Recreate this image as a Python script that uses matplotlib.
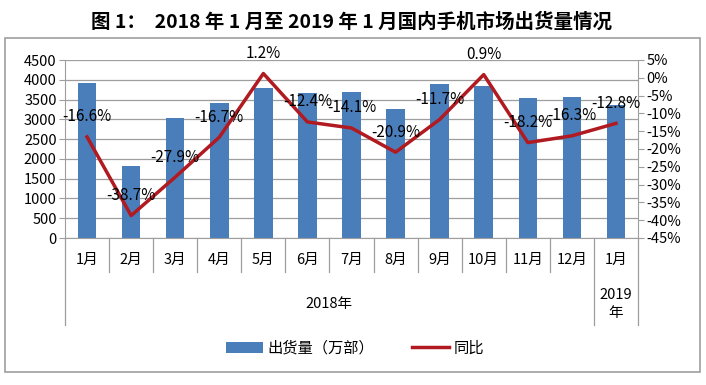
import matplotlib
matplotlib.use("Agg")
import matplotlib.pyplot as plt
from matplotlib.patches import Rectangle
import matplotlib.transforms as mtransforms

plt.rcParams['font.family'] = ['Noto Sans CJK SC', 'DejaVu Sans']

months = ["1月", "2月", "3月", "4月", "5月", "6月", "7月", "8月", "9月",
          "10月", "11月", "12月", "1月"]
shipments = [3910, 1820, 3030, 3420, 3780, 3660, 3690, 3260, 3900, 3850, 3540, 3560, 3370]
yoy = [-16.6, -38.7, -27.9, -16.7, 1.2, -12.4, -14.1, -20.9, -11.7, 0.9, -18.2, -16.3, -12.8]
years = [("2018年", 0, 11), ("2019\n年", 12, 12)]

bar_color = "#4A7EBB"
line_color = "#B01A20"
grid_color = "#9E9E9E"

fig = plt.figure(figsize=(7.06, 3.85), dpi=100)
ax = fig.add_axes([65 / 706, 1 - 238 / 385, (638 - 65) / 706, (238 - 60) / 385])

x = list(range(len(months)))
ax.bar(x, shipments, width=0.42, color=bar_color, label="出货量（万部）", zorder=2)
ax.set_ylim(0, 4500)
ax.set_yticks(range(0, 4501, 500))
ax.set_xlim(-0.5, len(months) - 0.5)
ax.set_xticks([])
ax.yaxis.grid(True, color=grid_color, lw=0.9, zorder=0)
ax.tick_params(axis='y', labelsize=10.5, length=4, color=grid_color, pad=2)
for s in ['top', 'right']:
    ax.spines[s].set_visible(False)
for s in ['left', 'bottom']:
    ax.spines[s].set_color(grid_color)

ax2 = ax.twinx()
ax2.plot(x, yoy, color=line_color, lw=2.5, label="同比", zorder=3)
ax2.set_ylim(-45, 5)
ax2.set_yticks(range(-45, 6, 5))
ax2.set_yticklabels([f"{t}%" for t in range(-45, 6, 5)])
ax2.tick_params(axis='y', labelsize=10.5, length=4, color=grid_color, pad=2)
for s in ['top', 'left', 'bottom']:
    ax2.spines[s].set_visible(False)
ax2.spines['right'].set_color(grid_color)
for i, v in enumerate(yoy):
    ax2.annotate(f"{v}%", (i, v), xytext=(0, 14.4), textcoords='offset points',
                 ha='center', va='center', fontsize=11)

# multi-level category axis
trans = mtransforms.blended_transform_factory(ax.transData, ax.transAxes)
h = 238 - 60
for i in range(len(months) + 1):
    xb = i - 0.5
    year_edge = xb in (-0.5, 11.5, len(months) - 0.5)
    y_end = -(325 - 238) / h if year_edge else -(272 - 238) / h
    ax.plot([xb, xb], [0, y_end], color=grid_color, lw=0.9,
            transform=trans, clip_on=False)
for i, m in enumerate(months):
    ax.text(i, -(260 - 238) / h, m, transform=trans, ha='center', va='center',
            fontsize=10.5)
for label, a, b in years:
    ax.text((a + b) / 2, -(304 - 238) / h, label, transform=trans, ha='center',
            va='center', fontsize=10.5, linespacing=1.4)

fig.legend(loc='center', bbox_to_anchor=(355 / 706, 1 - 348 / 385), ncol=2,
           frameon=False, fontsize=11, handlelength=2.4, columnspacing=2.5,
           handletextpad=0.3)

fig.patches.append(Rectangle((5 / 706, 1 - 372 / 385), 695 / 706, (372 - 38) / 385,
                             transform=fig.transFigure, fill=False,
                             edgecolor=grid_color, lw=1.2))

fig.text(352 / 706, 1 - 22 / 385, "图 1：  2018 年 1 月至 2019 年 1 月国内手机市场出货量情况",
         ha='center', va='center', fontsize=14, fontweight='bold')

fig.savefig("out.png", dpi=100)
